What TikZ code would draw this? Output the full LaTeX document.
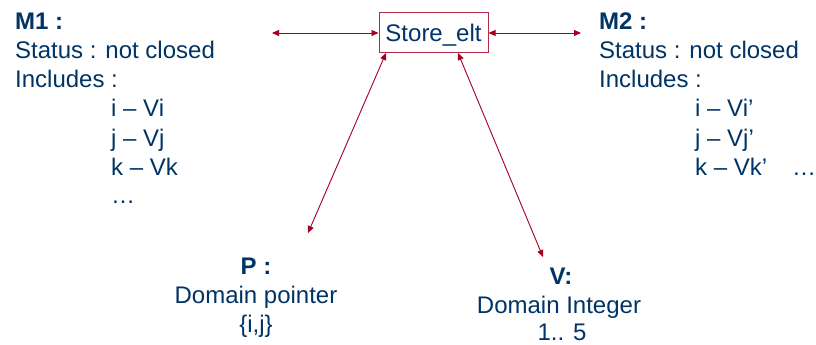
\documentclass[tikz,border=0pt]{standalone}
\usepackage{fontspec}
\setmainfont{Liberation Sans}
\usetikzlibrary{arrows.meta}
\definecolor{txtc}{RGB}{0,51,102}
\definecolor{arrc}{RGB}{165,0,33}
\definecolor{boxc}{RGB}{178,40,70}
\begin{document}
\begin{tikzpicture}[x=1pt,y=-1pt,
  lbl/.style={inner sep=0pt, anchor=base west, text=txtc, font=\fontsize{24}{29}\selectfont},
  clbl/.style={inner sep=0pt, anchor=base, text=txtc, font=\fontsize{24}{29}\selectfont},
  conn/.style={draw=arrc, line width=0.9pt, {Triangle[length=7pt,width=6pt]}-{Triangle[length=7pt,width=6pt]}},
  storebox/.style={draw=boxc, line width=1pt, minimum width=109pt, minimum height=40pt, inner sep=0pt,
    text height=17pt, text depth=0pt, text=txtc, font=\fontsize{24}{29}\selectfont}]
\useasboundingbox (0,0) rectangle (816,345);

% M1
\node[lbl] (m1h) at (15,30) {\textbf{M1 :}};
\node[lbl] (m1s) at (15,59) {Status : not closed};
\node[lbl] (m1i) at (15,87) {Includes :};
\node[lbl] (m1a) at (111,116) {i – Vi};
\node[lbl] (m1b) at (111,146) {j – Vj};
\node[lbl] (m1c) at (111,175) {k – Vk};
\node[lbl] (m1d) at (111,203) {…};

% M2
\node[lbl] (m2h) at (599,30) {\textbf{M2 :}};
\node[lbl] (m2s) at (599,59) {Status : not closed};
\node[lbl] (m2i) at (599,87) {Includes :};
\node[lbl] (m2a) at (695,116) {i – Vi’};
\node[lbl] (m2b) at (695,146) {j – Vj’};
\node[lbl] (m2c) at (695,175) {k – Vk’};
\node[lbl] (m2d) at (792,175) {…};

% P
\node[clbl] (ph) at (256,274) {\textbf{P :}};
\node[clbl] (pd) at (256,303) {Domain pointer};
\node[clbl] (pv) at (256,332) {\{i,j\}};

% V
\node[clbl] (vh) at (561,284) {\textbf{V:}};
\node[clbl] (vd) at (559,313) {Domain Integer};
\node[clbl] (vv) at (562,340) {1.. 5};

% Store_elt
\node[storebox] (store) at (433.5,33) {Store\_elt};

\coordinate (lend) at (272,33);
\coordinate (rend) at (581,33);
\coordinate (pstart) at (386,53);
\coordinate (vstart) at (458,53);
\coordinate (pend) at (308,233);
\coordinate (vend) at (543,257);

\draw[conn] (lend) -- (store.west);
\draw[conn] (store.east) -- (rend);
\draw[conn] (pstart) -- (pend);
\draw[conn] (vstart) -- (vend);
\end{tikzpicture}
\end{document}
